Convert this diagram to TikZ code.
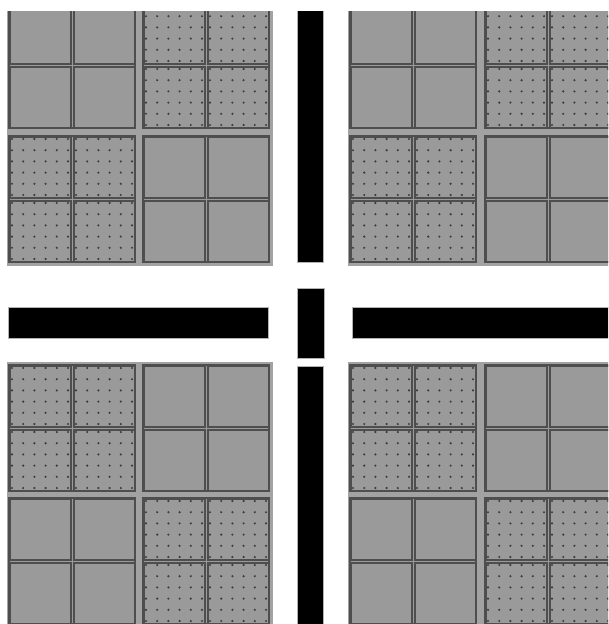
\documentclass[tikz,border=0pt]{standalone}
\usepackage{xcolor}
\usepackage{tikz}

\definecolor{tilegray}{RGB}{154,154,154}
\definecolor{padgray}{RGB}{162,162,162}
\definecolor{edgegray}{RGB}{78,78,78}
\definecolor{dotgray}{RGB}{60,60,60}

\begin{document}
\begin{tikzpicture}[
    x=0.025cm, y=-0.025cm,
    quadpad/.style = {fill=padgray},
    blockbox/.style = {fill=tilegray, draw=edgegray, line width=0.9pt},
    tilebox/.style = {draw=edgegray, line width=0.9pt},
    tiledot/.style = {fill=dotgray},
    busbar/.style = {fill=black, draw=gray!60, line width=0.7pt}
]
\useasboundingbox[fill=white] (0,0) rectangle (608,624);
\clip (0,12) rectangle (608,624);

% ── Quadrant pads ──
\foreach \qx/\qy in {7/0, 348/0, 7/362, 348/362}
  \fill[quadpad] (\qx,\qy) rectangle ++(266,266);

% ── Tile blocks (x / y / dotted) ──
\foreach \bx/\by/\dotted in {9/2/0, 143/2/1, 9/136/1, 143/136/0,
                             350/2/0, 485/2/1, 350/136/1, 485/136/0,
                             9/365/1, 143/365/0, 9/498/0, 143/498/1,
                             350/365/1, 485/365/0, 350/498/0, 485/498/1} {
  \draw[blockbox] (\bx,\by) rectangle ++(126,126);
  \foreach \tx/\ty in {0/0, 64/0, 0/64, 64/64} {
    \draw[tilebox] (\bx+\tx+1,\by+\ty+1) rectangle ++(61,61);
    \ifnum\dotted=1
      \foreach \i in {0,...,5}
        \foreach \j in {0,...,5}
          \fill[tiledot] (\bx+\tx+3+\i*11.2, \by+\ty+3+\j*11.2) circle[radius=0.85pt];
    \fi
  }
}

% ── Bars ──
\draw[busbar] (297,0)   rectangle (323,262);
\draw[busbar] (297,288) rectangle (324,358);
\draw[busbar] (297,366) rectangle (323,630);
\draw[busbar] (8,307)   rectangle (268,338);
\draw[busbar] (352,307) rectangle (615,338);

\end{tikzpicture}
\end{document}
